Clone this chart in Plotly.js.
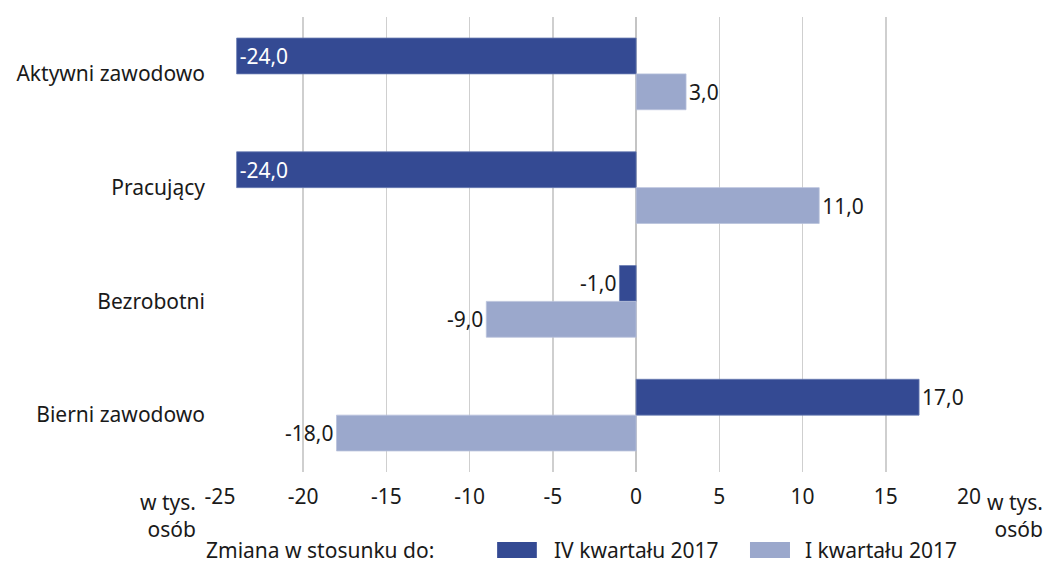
<!DOCTYPE html>
<html>
<head>
<meta charset="utf-8">
<script src="https://cdn.plot.ly/plotly-3.0.1.min.js"></script>
<style>html,body{margin:0;padding:0;background:#fff}#chart{width:1048px;height:574px}</style>
</head>
<body>
<div id="chart"></div>
<script>
const categories = ["Aktywni zawodowo", "Pracujący", "Bezrobotni", "Bierni zawodowo"];
const seriesNames = ["IV kwartału 2017", "I kwartału 2017"];
const valuesIV = [-24.0, -24.0, -1.0, 17.0];
const valuesI = [3.0, 11.0, -9.0, -18.0];
const tickVals = [-25, -20, -15, -10, -5, 0, 5, 10, 15, 20];
const tickText = ["-25", "-20", "-15", "-10", "-5", "0", "5", "10", "15", "20"];
const legendTitle = "Zmiana w stosunku do:";
const unitLabel = "w tys.<br>osób";

const colDark = "#344a93";
const colLight = "#9ba8cc";
const FONT = "Noto Sans, sans-serif";
const FS = 21;
const TXT = '#1a1a1a';

function fmt(v){ return v.toFixed(1).replace('.', ','); }

const posIV = valuesIV.map(v => v <= -5 ? 'inside' : 'outside');
const colIV = valuesIV.map(v => v <= -5 ? '#ffffff' : TXT);

const traces = [
  {
    type: 'bar', orientation: 'h', name: seriesNames[0],
    y: categories, x: valuesIV,
    text: valuesIV.map(fmt), textposition: posIV, insidetextanchor: 'end',
    textfont: {family: FONT, size: FS, color: colIV},
    outsidetextfont: {family: FONT, size: FS, color: TXT},
    insidetextfont: {family: FONT, size: FS, color: '#ffffff'},
    constraintext: 'none',
    cliponaxis: false,
    marker: {color: colDark, line: {color: '#6a7cb3', width: 0.8}},
    hoverinfo: 'x+y'
  },
  {
    type: 'bar', orientation: 'h', name: seriesNames[1],
    y: categories, x: valuesI,
    text: valuesI.map(fmt), textposition: 'outside',
    textfont: {family: FONT, size: FS, color: TXT},
    constraintext: 'none',
    cliponaxis: false,
    marker: {color: colLight, line: {color: '#b9c2dc', width: 0.8}},
    hoverinfo: 'x+y'
  }
];

const fnt = {family: FONT, size: FS, color: TXT};

const layout = {
  width: 1048, height: 574,
  margin: {l: 220, r: 79, t: 17, b: 102},
  paper_bgcolor: '#ffffff', plot_bgcolor: '#ffffff',
  font: fnt,
  barmode: 'group', bargap: 0.37, bargroupgap: 0,
  showlegend: false,
  xaxis: {
    range: [-25, 20], tickvals: tickVals, ticktext: tickText,
    showgrid: true, gridcolor: '#cfcfcf', gridwidth: 1.5,
    zeroline: true, zerolinecolor: '#c4c4c4', zerolinewidth: 2,
    showline: false, ticks: '', ticklabelstandoff: 10,
    tickfont: fnt
  },
  yaxis: {
    type: 'category', autorange: 'reversed',
    showgrid: false, zeroline: false, showline: false, ticks: '',
    ticklabelstandoff: 14,
    tickfont: fnt
  },
  annotations: [
    {xref: 'paper', yref: 'paper', x: -0.03, y: -0.03, xanchor: 'right', yanchor: 'top',
     text: unitLabel, showarrow: false, align: 'right', font: fnt},
    {xref: 'paper', yref: 'paper', x: 1.022, y: -0.03, xanchor: 'left', yanchor: 'top',
     text: unitLabel, showarrow: false, align: 'right', font: fnt},
    {xref: 'paper', yref: 'paper', x: -0.021, y: -0.171, xanchor: 'left', yanchor: 'middle',
     text: legendTitle, showarrow: false, font: fnt},
    {xref: 'paper', yref: 'paper', x: 0.443, y: -0.171, xanchor: 'left', yanchor: 'middle',
     text: seriesNames[0], showarrow: false, font: fnt},
    {xref: 'paper', yref: 'paper', x: 0.779, y: -0.171, xanchor: 'left', yanchor: 'middle',
     text: seriesNames[1], showarrow: false, font: fnt}
  ],
  shapes: [
    {type: 'rect', xref: 'paper', yref: 'paper', x0: 0.370, x1: 0.423, y0: -0.154, y1: -0.189,
     fillcolor: colDark, line: {width: 0}},
    {type: 'rect', xref: 'paper', yref: 'paper', x0: 0.7076, x1: 0.761, y0: -0.154, y1: -0.189,
     fillcolor: colLight, line: {width: 0}}
  ]
};

Plotly.newPlot('chart', traces, layout, {displayModeBar: false, staticPlot: true});
</script>
</body>
</html>
